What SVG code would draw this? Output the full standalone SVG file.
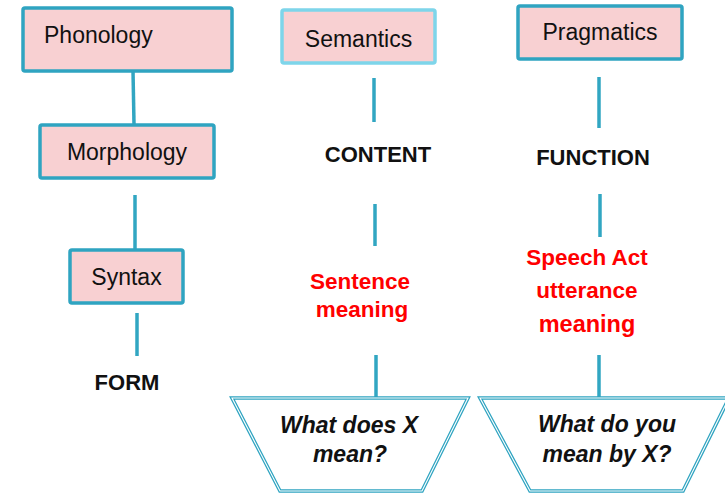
<svg xmlns="http://www.w3.org/2000/svg" width="725" height="493" viewBox="0 0 725 493">
  <style>
    .box { fill: #F8D0D2; stroke: #2FA4C1; stroke-width: 3.5; }
    .box2 { fill: #F8D0D2; stroke: #7ED5EA; stroke-width: 3.5; }
    .lbl { font-family: "Liberation Sans", Arial, sans-serif; font-size: 23px; fill: #111; }
    .key { font-family: "Liberation Sans", Arial, sans-serif; font-size: 22px; font-weight: bold; fill: #111; }
    .red { font-family: "Liberation Sans", Arial, sans-serif; font-size: 22.5px; font-weight: bold; fill: #FF0000; }
    .q { font-family: "Liberation Sans", Arial, sans-serif; font-size: 23px; font-weight: bold; font-style: italic; fill: #111; }
    .conn { stroke: #31A6C2; stroke-width: 3.5; fill: none; }
    .trapOut { fill: #FFFFFF; stroke: #2FA4C1; stroke-width: 3.6; stroke-linejoin: miter; }
    .trapIn { fill: none; stroke: #FFFFFF; stroke-width: 1.1; stroke-linejoin: miter; }
  </style>
  <rect width="725" height="493" fill="#FFFFFF"/>

  <g id="connectors">
    <line class="conn" x1="133" y1="71" x2="134" y2="124"/>
    <line class="conn" x1="135" y1="195" x2="135" y2="249"/>
    <line class="conn" x1="137" y1="313" x2="137" y2="356"/>
    <line class="conn" x1="374" y1="78" x2="374" y2="122"/>
    <line class="conn" x1="375" y1="204" x2="375" y2="246"/>
    <line class="conn" x1="376" y1="355" x2="376" y2="397"/>
    <line class="conn" x1="599" y1="77" x2="599" y2="128"/>
    <line class="conn" x1="600" y1="194" x2="600" y2="237"/>
    <line class="conn" x1="599" y1="355" x2="599" y2="397"/>
  </g>

  <g id="phonology">
    <rect class="box" x="23" y="8" width="209" height="63" rx="2"/>
    <text class="lbl" x="44" y="43">Phonology</text>
  </g>
  <g id="morphology">
    <rect class="box" x="40" y="125" width="174" height="53" rx="2"/>
    <text class="lbl" x="127" y="160" text-anchor="middle">Morphology</text>
  </g>
  <g id="syntax">
    <rect class="box" x="70" y="250" width="113" height="53" rx="2"/>
    <text class="lbl" x="126.5" y="285" text-anchor="middle">Syntax</text>
  </g>
  <g id="form">
    <text class="key" x="127" y="390" text-anchor="middle">FORM</text>
  </g>

  <g id="semantics">
    <rect class="box2" x="282" y="10" width="153" height="53" rx="2"/>
    <text class="lbl" x="358.5" y="47" text-anchor="middle">Semantics</text>
  </g>
  <g id="content">
    <text class="key" x="378" y="162" text-anchor="middle">CONTENT</text>
  </g>
  <g id="sentence-meaning">
    <text class="red" x="360" y="289" text-anchor="middle">Sentence</text>
    <text class="red" x="362" y="317" text-anchor="middle">meaning</text>
  </g>
  <g id="what-does-x">
    <polygon class="trapOut" points="232,398 468,398 422,491 280,491"/>
    <polygon class="trapIn" points="232,398 468,398 422,491 280,491"/>
    <text class="q" x="349" y="433" text-anchor="middle">What does X</text>
    <text class="q" x="350" y="462" text-anchor="middle">mean?</text>
  </g>

  <g id="pragmatics">
    <rect class="box" x="518" y="6" width="164" height="53" rx="2"/>
    <text class="lbl" x="600" y="40" text-anchor="middle">Pragmatics</text>
  </g>
  <g id="function">
    <text class="key" x="593" y="165" text-anchor="middle">FUNCTION</text>
  </g>
  <g id="speech-act">
    <text class="red" x="587" y="265" text-anchor="middle">Speech Act</text>
    <text class="red" x="587" y="298" text-anchor="middle">utterance</text>
    <text class="red" x="587" y="332" text-anchor="middle" style="font-size:23.5px">meaning</text>
  </g>
  <g id="what-do-you-mean">
    <polygon class="trapOut" points="480,398 729,398 683,491 530,491"/>
    <polygon class="trapIn" points="480,398 729,398 683,491 530,491"/>
    <text class="q" x="607" y="432" text-anchor="middle">What do you</text>
    <text class="q" x="607" y="462" text-anchor="middle">mean by X?</text>
  </g>
</svg>
